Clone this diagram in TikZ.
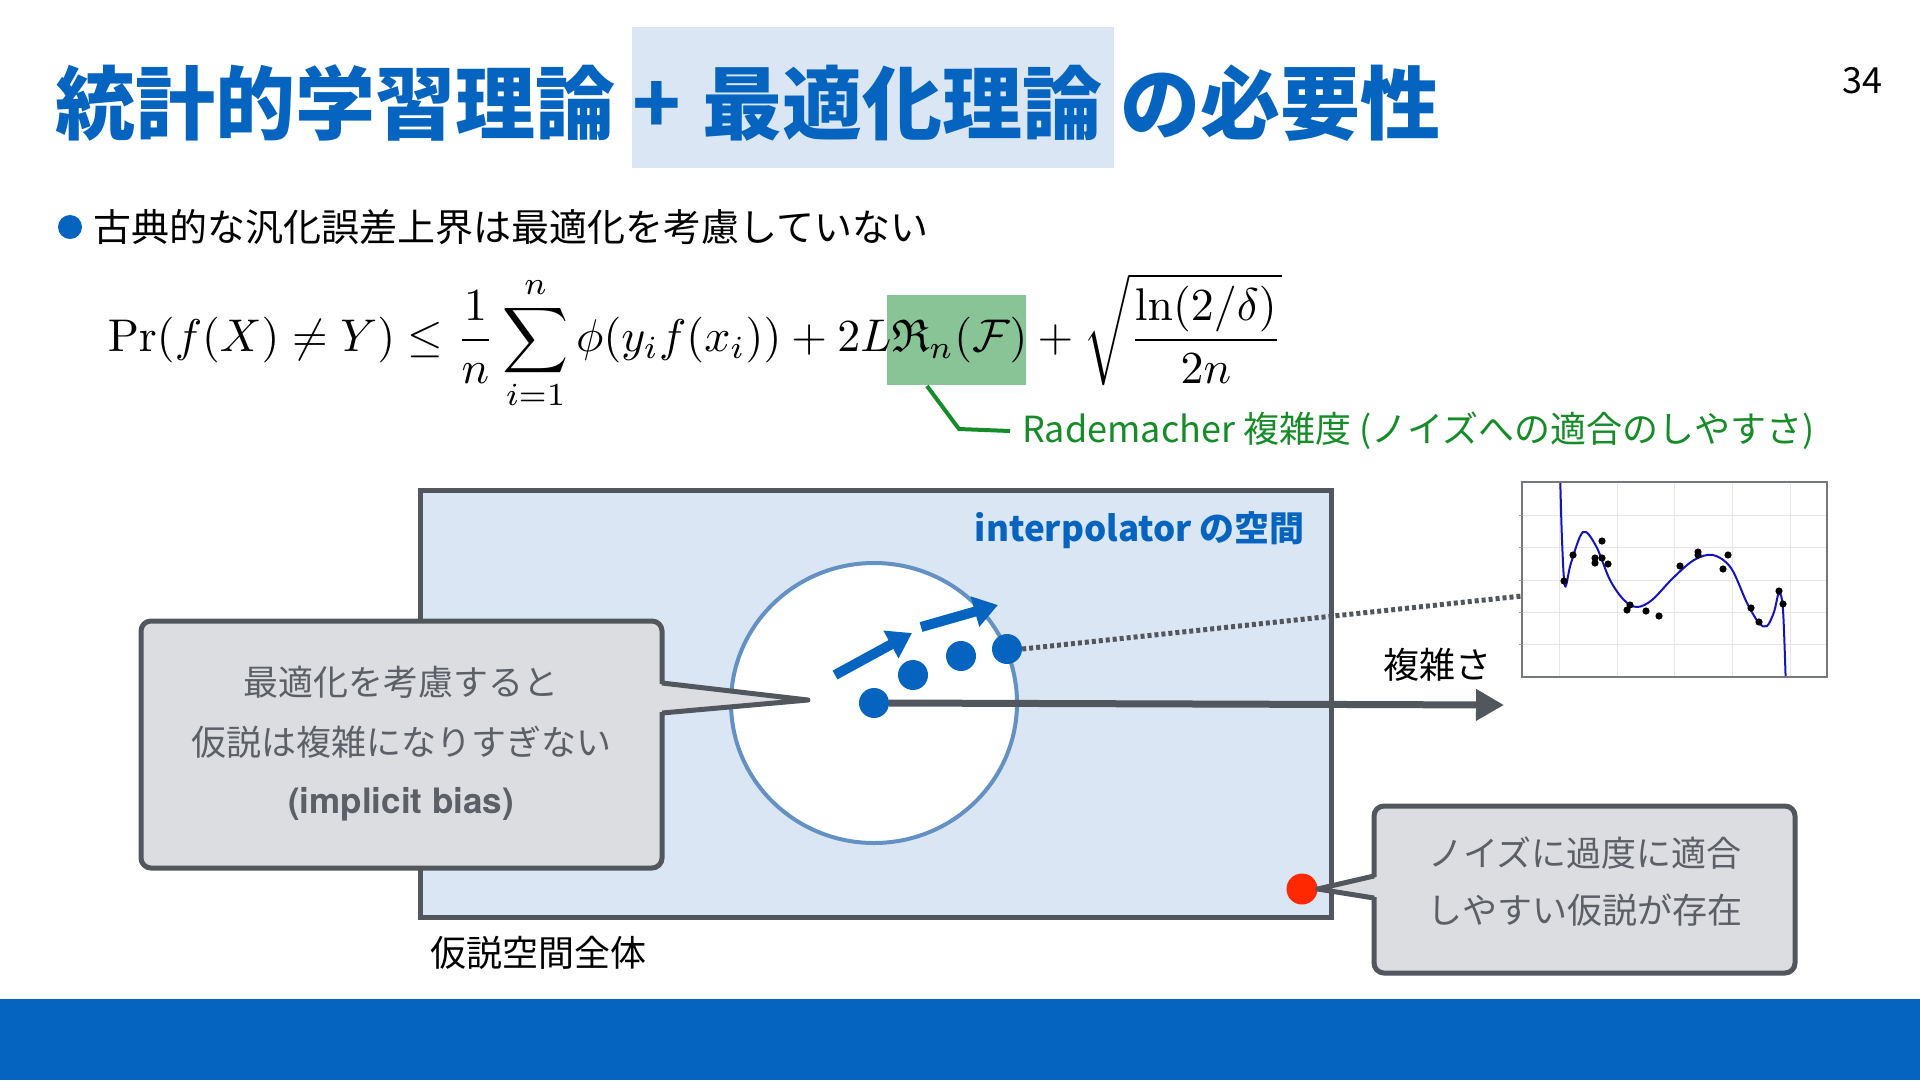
\documentclass[tikz,border=0pt]{standalone}
\usepackage[no-math]{fontspec}
\usepackage{amsmath,amssymb}
\usepackage{graphicx}
\newfontfamily\jp{Noto Sans CJK JP}
\newfontfamily\hel{TeX Gyre Heros}
\usetikzlibrary{arrows.meta}
\newcommand\fsz[1]{\fontsize{#1pt}{#1pt}\selectfont}
\definecolor{tblue}{RGB}{4,100,192}
\definecolor{hl}{RGB}{218,230,244}
\definecolor{gbox}{RGB}{136,196,150}
\definecolor{gline}{RGB}{22,140,40}
\definecolor{dgray}{RGB}{82,86,93}
\definecolor{cfill}{RGB}{220,221,224}
\definecolor{ctext}{RGB}{92,96,102}
\definecolor{cstroke}{RGB}{100,145,195}
\definecolor{rdot}{RGB}{255,40,0}
\definecolor{grid}{RGB}{228,230,234}
\definecolor{curve}{RGB}{20,20,190}
\tikzset{
  title/.style={font=\jp\bfseries\fsz{80}, text=tblue, inner sep=0pt},
  body/.style={font=\jp\fsz{36}, text=black, inner sep=0pt},
  ctxt/.style={font=\jp\fsz{35}, text=ctext, inner sep=0pt},
  calloutbox/.style={draw=dgray, fill=cfill, line width=5pt, rounded corners=10pt},
  pointer/.style={draw=dgray, line width=5pt, line join=round},
  bdot/.style={circle, fill=tblue, minimum size=30pt, inner sep=0pt},
  barrow/.style={draw=tblue, line width=10pt, -{Triangle[length=24pt,width=30pt]}},
  garrow/.style={draw=dgray, line width=7pt, -{Triangle[length=28pt,width=30pt]}},
  dotline/.style={draw=dgray, line width=5pt, dash pattern=on 4pt off 3pt},
}
\begin{document}
\begin{tikzpicture}[x=1pt,y=-1pt]
\useasboundingbox (0,0) rectangle (1920,1080);
\fill[white] (0,0) rectangle (1920,1080);
% footer band
\fill[tblue] (0,999) rectangle (1920,1080);

% title
\fill[hl] (632,27) rectangle (1114,168);
\node[title, anchor=base west] (t1) at (55,133) {統計的学習理論};
\node[title, anchor=base] (tplus) at (657,133) {+};
\node[title, anchor=base west] (t2) at (702,133) {最適化理論};
\node[title, anchor=base west] (t3) at (1120,133) {の必要性};
\node[font=\jp\fsz{36}, inner sep=0pt] (pg) at (1862,81) {34};

% bullet
\fill[tblue] (70,227) circle[radius=12pt];
\node[body, font=\jp\fsz{38}, anchor=west] (b1) at (93,227) {古典的な汎化誤差上界は最適化を考慮していない};

% formula
\fill[gbox] (887,295) rectangle (1026,385);
\node[inner sep=0pt] (eq) at (695,342) {\resizebox{1174pt}{!}{$\displaystyle \Pr(f(X)\neq Y)\leq\frac{1}{n}\sum_{i=1}^{n}\phi(y_if(x_i))+2L\mathfrak{R}_n(\mathcal{F})+\sqrt{\frac{\ln(2/\delta)}{2n}}$}};
\node[font=\jp\fsz{36}, text=gline, anchor=west, inner sep=0pt] (rad) at (1022,431) {Rademacher 複雑度 (ノイズへの適合のしやすさ)};
\coordinate (gb) at (927,386);
\draw[gline, line width=4pt] (gb) -- (959,429) -- ([xshift=-12pt]rad.west);

% hypothesis space
\draw[dgray, fill=hl, line width=5pt] (420,490) rectangle (1331,917);
\node[font=\jp\bfseries\fsz{35}, text=tblue, anchor=east, inner sep=0pt] (interp) at (1305,530) {interpolator の空間};
\node[body, anchor=west] (hs) at (430,953) {仮説空間全体};

% circle of implicit bias
\draw[cstroke, fill=white, line width=4pt] (874,703) ellipse [x radius=143pt, y radius=140pt];

% plot
\begin{scope}
\fill[white] (1522,482) rectangle (1827,677);
\foreach \gx in {1559,1617,1674,1732,1790} \draw[grid, line width=1pt] (\gx,482) -- (\gx,677);
\foreach \gy in {515,547,580,612,644} \draw[grid, line width=1pt] (1522,\gy) -- (1827,\gy);
\clip (1522,482) rectangle (1827,677);
\draw[curve, line width=2pt] plot[smooth, tension=0.55] coordinates {(1560,470) (1562,540) (1565,586) (1571,563) (1583,532) (1596,546) (1610,580) (1624,600) (1637,607) (1652,600) (1673,578) (1694,560) (1713,555) (1731,568) (1747,603) (1759,623) (1767,626) (1774,612) (1779,593) (1783,610) (1786,690)};
\foreach \px/\py in {1564/581,1573/555,1595/558,1595/563,1602/541,1602/558,1608/564,1627/610,1630/605,1646/611,1659/616,1680/566,1698/552,1698/555,1723/569,1728/555,1751/608,1759/622,1779/591,1783/604}
  \fill[black] (\px,\py) circle[radius=3.6pt];
\end{scope}
\draw[dgray!80, line width=1.2pt] (1522,482) rectangle (1827,677);
\coordinate (plotnw) at (1522,482);
\foreach \gy in {515,547,580,612,644} \draw[dgray!60, line width=1pt] (1519,\gy) -- (1522,\gy);

% dots and arrows
\node[bdot] (d1) at (874,703) {};
\node[bdot] (d2) at (913,675) {};
\node[bdot] (d3) at (961,656) {};
\node[bdot] (d4) at (1007,649) {};
\coordinate (a1s) at (835,675);
\coordinate (a1e) at (912,633);
\coordinate (a2s) at (921,627);
\coordinate (a2e) at (998,605);
\draw[barrow] (a1s) -- (a1e);
\draw[barrow] (a2s) -- (a2e);
\coordinate (axend) at (1504,705);
\draw[garrow] (d1.east) -- (axend);
\node[body, anchor=center] (cx) at (1437,665) {複雑さ};
\coordinate (pl) at (1522,596);
\draw[dotline] (d4.east) -- (pl);

% red dot
\node[circle, fill=rdot, minimum size=31pt, inner sep=0pt] (rd) at (1302,889) {};

% left callout
\draw[calloutbox] (141,621) rectangle (662,868);
\fill[cfill] (659,684) -- (808,700) -- (659,712) -- cycle;
\draw[pointer] (662,683) -- (808,700) -- (662,713);
\node[ctxt] (l1) at (401,682) {最適化を考慮すると};
\node[ctxt] (l2) at (401,742) {仮説は複雑になりすぎない};
\node[font=\hel\bfseries\fsz{35}, text=ctext, inner sep=0pt] (l3) at (401,804) {(implicit bias)};

% right callout
\draw[calloutbox] (1374,806) rectangle (1795,973);
\fill[cfill] (1377,877) -- (rd.east) -- (1377,897) -- cycle;
\draw[pointer] (1374,876) -- (rd.east) -- (1374,898);
\node[ctxt] (r1) at (1585,853) {ノイズに過度に適合};
\node[ctxt] (r2) at (1585,910) {しやすい仮説が存在};
\end{tikzpicture}
\end{document}
